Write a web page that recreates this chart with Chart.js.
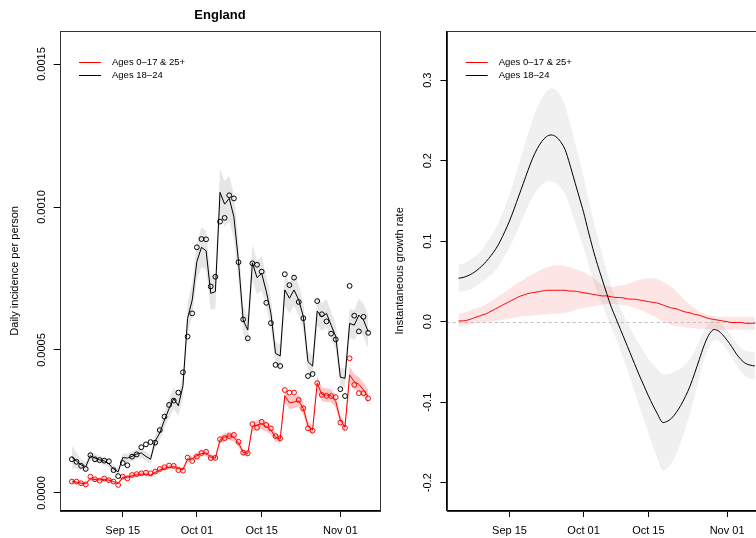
<!DOCTYPE html>
<html>
<head>
<meta charset="utf-8">
<script src="https://cdn.jsdelivr.net/npm/chart.js@4.4.1/dist/chart.umd.min.js"></script>
<style>
  html, body { margin: 0; padding: 0; background: #fff; overflow: hidden; width: 756px; height: 538px; }
  canvas { position: absolute; top: 0; }
  #incidence { left: 0; }
  #growth { left: 380px; }
</style>
</head>
<body>
<canvas id="incidence" width="400" height="538"></canvas>
<canvas id="growth" width="400" height="538"></canvas>
<script>
// ================= DATA =================
// x = days since 4 Sep 2020 (0..64)
const SERIES_NAMES = ['Ages 0\u201317 & 25+', 'Ages 18\u201324'];
const X_TICKS = [11, 27, 41, 58];
const X_TICK_LABELS = ['Sep 15', 'Oct 01', 'Oct 15', 'Nov 01'];
const INC_TICKS = [0, 0.0005, 0.0010, 0.0015];
const INC_TICK_LABELS = ['0.0000', '0.0005', '0.0010', '0.0015'];
const GROWTH_TICKS = [-0.2, -0.1, 0, 0.1, 0.2, 0.3];
const GROWTH_TICK_LABELS = ['-0.2', '-0.1', '0.0', '0.1', '0.2', '0.3'];

// daily incidence, per 10,000 people
const obsYoung = [1.18,1.09,0.95,0.84,1.32,1.18,1.15,1.13,1.11,0.80,0.59,1.05,0.97,1.27,1.35,1.60,1.70,1.78,1.76,2.20,2.67,3.08,3.23,3.51,4.22,5.47,6.28,8.59,8.88,8.87,7.22,7.56,9.49,9.62,10.41,10.30,8.07,6.07,5.41,8.03,7.98,7.74,6.65,5.94,4.48,4.44,7.65,7.27,7.53,6.68,6.11,4.09,4.16,6.71,6.25,6.00,5.57,5.37,3.63,3.39,7.24,6.20,5.65,6.16,5.60];
const fitYoung = [1.25,1.12,0.98,0.92,1.30,1.22,1.16,1.12,1.02,0.84,0.74,1.24,1.22,1.28,1.36,1.40,1.28,1.18,1.82,2.10,2.55,2.95,3.30,3.05,3.75,6.10,6.75,8.09,8.59,8.47,6.98,7.04,10.51,10.10,10.30,9.66,8.09,6.05,5.70,8.05,7.53,7.68,7.05,6.28,4.88,4.79,7.10,6.81,7.10,6.75,6.17,4.59,4.44,6.36,6.16,6.28,5.87,5.47,4.05,4.01,5.93,5.87,6.22,6.05,5.64];
const fitYoungLo = [0.85,0.85,0.78,0.76,1.13,1.07,1.02,0.98,0.89,0.72,0.63,1.09,1.07,1.12,1.19,1.22,1.11,1.02,1.60,1.85,2.25,2.62,2.93,2.70,3.35,5.55,6.18,7.45,7.90,7.80,6.40,6.45,9.70,9.30,9.50,8.90,7.45,5.55,5.22,7.42,6.95,7.08,6.50,5.78,4.48,4.40,6.55,6.28,6.55,6.22,5.68,4.22,4.08,5.85,5.67,5.78,5.40,5.03,3.72,3.68,5.42,5.35,5.65,5.48,5.05];
const fitYoungHi = [1.65,1.40,1.18,1.08,1.47,1.37,1.30,1.26,1.15,0.96,0.85,1.39,1.37,1.44,1.53,1.58,1.45,1.34,2.04,2.35,2.85,3.30,3.70,3.42,4.15,6.65,7.35,8.75,9.30,9.15,7.58,7.65,11.35,10.90,11.10,10.42,8.75,6.55,6.18,8.70,8.12,8.28,7.60,6.78,5.28,5.18,7.65,7.34,7.65,7.28,6.66,4.96,4.80,6.87,6.65,6.78,6.34,5.91,4.38,4.34,6.44,6.39,6.79,6.62,6.23];

const obsOther = [0.40,0.40,0.34,0.30,0.57,0.48,0.43,0.51,0.45,0.40,0.28,0.57,0.51,0.63,0.66,0.69,0.71,0.69,0.75,0.84,0.90,0.96,0.95,0.80,0.78,1.24,1.12,1.27,1.40,1.44,1.22,1.23,1.88,1.92,1.99,2.03,1.79,1.41,1.39,2.41,2.28,2.49,2.38,2.26,1.99,1.91,3.60,3.51,3.51,3.25,2.96,2.26,2.18,3.84,3.43,3.40,3.39,3.35,2.46,2.28,4.71,3.78,3.49,3.49,3.31];
const fitOther = [0.40,0.38,0.34,0.32,0.50,0.47,0.46,0.47,0.45,0.40,0.33,0.55,0.55,0.60,0.63,0.66,0.66,0.62,0.72,0.80,0.86,0.90,0.92,0.86,0.82,1.18,1.20,1.30,1.38,1.40,1.25,1.22,1.85,1.95,2.00,1.95,1.75,1.42,1.38,2.32,2.38,2.42,2.32,2.20,1.95,1.88,3.40,3.15,3.18,3.22,2.95,2.35,2.20,3.84,3.45,3.42,3.40,3.20,2.55,2.30,4.13,3.89,3.80,3.60,3.37];
const fitOtherLo = [0.35,0.33,0.29,0.27,0.44,0.41,0.40,0.41,0.39,0.35,0.28,0.49,0.49,0.53,0.56,0.59,0.59,0.55,0.65,0.72,0.78,0.82,0.84,0.78,0.74,1.08,1.10,1.19,1.27,1.29,1.15,1.12,1.71,1.80,1.85,1.80,1.61,1.31,1.27,2.15,2.21,2.24,2.15,2.04,1.80,1.74,3.17,2.93,2.96,3.00,2.74,2.18,2.04,3.58,3.21,3.18,3.17,2.98,2.37,2.13,3.85,3.62,3.54,3.35,3.12];
const fitOtherHi = [0.45,0.43,0.39,0.37,0.56,0.53,0.52,0.53,0.51,0.45,0.38,0.61,0.61,0.67,0.70,0.73,0.73,0.69,0.79,0.88,0.94,0.98,1.00,0.94,0.90,1.28,1.30,1.41,1.49,1.51,1.35,1.32,1.99,2.10,2.15,2.10,1.89,1.53,1.49,2.49,2.55,2.60,2.49,2.36,2.10,2.02,3.63,3.37,3.40,3.44,3.16,2.52,2.36,4.10,3.69,3.66,3.63,3.42,2.73,2.47,4.41,4.16,4.06,3.85,3.62];

// instantaneous growth rate
const growthYoung = [0.054,0.055,0.057,0.060,0.064,0.069,0.075,0.082,0.090,0.100,0.112,0.125,0.140,0.156,0.172,0.188,0.203,0.215,0.224,0.230,0.232,0.230,0.224,0.214,0.196,0.176,0.156,0.136,0.113,0.091,0.071,0.053,0.035,0.018,0.004,-0.010,-0.024,-0.038,-0.052,-0.066,-0.079,-0.092,-0.104,-0.115,-0.125,-0.124,-0.120,-0.113,-0.104,-0.093,-0.080,-0.064,-0.047,-0.030,-0.017,-0.010,-0.011,-0.016,-0.023,-0.031,-0.040,-0.047,-0.052,-0.054,-0.055];
const growthYoungLo = [0.037,0.038,0.039,0.041,0.045,0.049,0.053,0.058,0.064,0.072,0.082,0.092,0.104,0.117,0.130,0.143,0.155,0.164,0.170,0.174,0.174,0.172,0.167,0.159,0.144,0.126,0.109,0.092,0.072,0.053,0.036,0.022,0.007,-0.007,-0.021,-0.036,-0.052,-0.069,-0.086,-0.104,-0.121,-0.138,-0.155,-0.171,-0.185,-0.183,-0.176,-0.165,-0.150,-0.133,-0.114,-0.092,-0.070,-0.048,-0.032,-0.023,-0.023,-0.028,-0.035,-0.044,-0.054,-0.062,-0.068,-0.071,-0.072];
const growthYoungHi = [0.071,0.072,0.075,0.079,0.083,0.089,0.097,0.106,0.116,0.128,0.142,0.158,0.176,0.195,0.214,0.233,0.251,0.266,0.278,0.286,0.290,0.288,0.281,0.269,0.248,0.226,0.203,0.180,0.154,0.129,0.106,0.084,0.063,0.043,0.029,0.016,0.004,-0.007,-0.018,-0.028,-0.037,-0.046,-0.053,-0.059,-0.065,-0.065,-0.064,-0.061,-0.058,-0.053,-0.046,-0.036,-0.024,-0.012,-0.002,0.003,0.001,-0.004,-0.011,-0.018,-0.026,-0.032,-0.036,-0.037,-0.038];
const growthOther = [0.001,0.001,0.002,0.004,0.006,0.008,0.010,0.013,0.016,0.019,0.022,0.025,0.028,0.031,0.033,0.035,0.036,0.037,0.038,0.039,0.039,0.039,0.039,0.039,0.038,0.038,0.037,0.036,0.035,0.034,0.033,0.032,0.032,0.031,0.030,0.030,0.029,0.028,0.028,0.027,0.026,0.025,0.024,0.023,0.021,0.019,0.017,0.016,0.014,0.012,0.011,0.009,0.008,0.006,0.004,0.003,0.002,0.001,0.000,-0.001,-0.001,-0.001,-0.002,-0.002,-0.002];
const growthOtherLo = [-0.006,-0.005,-0.004,-0.003,-0.002,-0.001,0.000,0.000,0.001,0.002,0.003,0.004,0.005,0.006,0.007,0.007,0.008,0.008,0.009,0.009,0.010,0.010,0.010,0.011,0.012,0.014,0.016,0.017,0.018,0.019,0.020,0.021,0.022,0.022,0.022,0.021,0.020,0.019,0.017,0.015,0.013,0.010,0.007,0.004,0.001,-0.002,-0.004,-0.005,-0.006,-0.007,-0.008,-0.008,-0.009,-0.009,-0.009,-0.010,-0.010,-0.010,-0.010,-0.010,-0.010,-0.010,-0.010,-0.010,-0.010];
const growthOtherHi = [0.010,0.011,0.013,0.015,0.017,0.019,0.022,0.025,0.029,0.033,0.037,0.041,0.045,0.049,0.052,0.056,0.059,0.062,0.065,0.067,0.069,0.070,0.070,0.069,0.068,0.066,0.064,0.062,0.059,0.055,0.050,0.046,0.044,0.043,0.044,0.045,0.046,0.048,0.050,0.052,0.053,0.054,0.054,0.053,0.050,0.047,0.043,0.038,0.032,0.026,0.021,0.017,0.013,0.010,0.008,0.007,0.006,0.006,0.006,0.006,0.006,0.006,0.006,0.006,0.006];

// ================= STYLE =================
const FONT = "'Liberation Sans', Arial, Helvetica, sans-serif";
const RED = '#ff0000';
const BLACK = '#000000';
const GREY_BAND = '#e6e6e6';
const PINK_BAND = '#fbc8c8';
const GREY_BAND_GR = '#f0f0f0';
const PINK_BAND_GR = 'rgba(250, 40, 40, 0.12)';

Chart.defaults.font.family = FONT;
Chart.defaults.color = '#000';
Chart.defaults.animation = false;

const PER_10K = 1e-4;
function toPoints(values, factor = 1) {
  return values.map((v, i) => ({ x: i, y: v * factor }));
}

// ================= PLUGINS =================
// frame round the plot region
const boxPlugin = {
  id: 'box',
  afterDatasetsDraw(chart) {
    const { ctx, chartArea: a } = chart;
    ctx.save();
    ctx.strokeStyle = '#333';
    ctx.lineWidth = 1;
    ctx.strokeRect(Math.round(a.left) + 0.5, Math.round(a.top) + 0.5,
      Math.round(a.right - a.left), Math.round(a.bottom - a.top));
    ctx.restore();
  }
};

// legend with line samples, top left inside the plot
const lineLegend = {
  id: 'lineLegend',
  afterDatasetsDraw(chart, args, opts) {
    const { ctx, chartArea: a } = chart;
    ctx.save();
    ctx.font = '9.5px ' + FONT;
    ctx.textBaseline = 'middle';
    opts.items.forEach((it, i) => {
      const y = Math.round(a.top + 30.5 + i * 13.5) + 0.5;
      ctx.strokeStyle = it.color;
      ctx.lineWidth = 1;
      ctx.beginPath();
      ctx.moveTo(a.left + 19, y);
      ctx.lineTo(a.left + 41, y);
      ctx.stroke();
      ctx.fillStyle = '#000';
      ctx.fillText(it.text, a.left + 52, y);
    });
    ctx.restore();
  }
};

// dotted reference line at zero growth
const zeroLine = {
  id: 'zeroLine',
  beforeDatasetDraw(chart, args) {
    if (args.index !== 1) return;
    const { ctx, chartArea: a, scales } = chart;
    const y = Math.round(scales.y.getPixelForValue(0)) + 0.5;
    ctx.save();
    ctx.strokeStyle = '#bdbdbd';
    ctx.lineWidth = 1;
    ctx.setLineDash([3, 3]);
    ctx.beginPath();
    ctx.moveTo(a.left, y);
    ctx.lineTo(a.right, y);
    ctx.stroke();
    ctx.restore();
  }
};

// ================= AXES =================
function dayAxis() {
  return {
    type: 'linear',
    min: -2.56,
    max: 66.56,
    afterBuildTicks: s => { s.ticks = X_TICKS.map(v => ({ value: v })); },
    afterFit: s => { s.height = 27.3; },
    grid: { drawOnChartArea: false, drawTicks: true, tickLength: 6.3, color: BLACK },
    border: { display: true, color: BLACK },
    ticks: { callback: (v, i) => X_TICK_LABELS[i], font: { size: 11 }, padding: 7.4, maxRotation: 0, autoSkip: false }
  };
}

function valueAxis(min, max, ticks, labels, title, titlePad, labelPad, width) {
  return {
    type: 'linear',
    min: min,
    max: max,
    afterBuildTicks: s => { s.ticks = ticks.map(v => ({ value: v })); },
    afterFit: s => { s.width = width; },
    grid: { drawOnChartArea: false, drawTicks: true, tickLength: 6.3, color: BLACK },
    border: { display: true, color: BLACK },
    ticks: {
      callback: (v, i) => labels[i],
      font: { size: 11 },
      minRotation: 90,
      maxRotation: 90,
      crossAlign: 'center',
      padding: labelPad,
      autoSkip: false
    },
    title: { display: true, text: title, font: { size: 11 }, padding: { top: titlePad, bottom: 0 } }
  };
}

function band(values, color, order, factor, fill) {
  return {
    data: toPoints(values, factor),
    borderColor: 'rgba(0,0,0,0)',
    borderWidth: 0,
    pointRadius: 0,
    backgroundColor: color,
    fill: fill,
    order: order
  };
}

// ================= GRÁFICO 1: INCIDÊNCIA =================
new Chart(document.getElementById('incidence'), {
  type: 'line',
  data: {
    datasets: [
      { data: toPoints(obsYoung, PER_10K), showLine: false, pointRadius: 2.4, pointBorderWidth: 1,
        pointBorderColor: BLACK, pointBackgroundColor: 'rgba(0,0,0,0)', order: 0 },
      { data: toPoints(obsOther, PER_10K), showLine: false, pointRadius: 2.4, pointBorderWidth: 1,
        pointBorderColor: RED, pointBackgroundColor: 'rgba(0,0,0,0)', order: 0 },
      { data: toPoints(fitYoung, PER_10K), borderColor: BLACK, borderWidth: 1, pointRadius: 0, order: 1 },
      { data: toPoints(fitOther, PER_10K), borderColor: RED, borderWidth: 1, pointRadius: 0, order: 1 },
      band(fitYoungLo, GREY_BAND, 3, PER_10K, false),
      band(fitYoungHi, GREY_BAND, 3, PER_10K, '-1'),
      band(fitOtherLo, PINK_BAND, 2, PER_10K, false),
      band(fitOtherHi, PINK_BAND, 2, PER_10K, '-1')
    ]
  },
  options: {
    responsive: false,
    devicePixelRatio: 1,
    layout: { padding: { top: 1.4, right: 20, left: 0, bottom: 0 } },
    scales: {
      x: dayAxis(),
      y: valueAxis(-0.0000619, 0.0016154, INC_TICKS, INC_TICK_LABELS,
        'Daily incidence per person', 8.4, -4.6, 60)
    },
    plugins: {
      legend: { display: false },
      tooltip: { enabled: false },
      title: { display: true, text: 'England', fullSize: false, font: { size: 13, weight: 'bold' },
        padding: { top: 6, bottom: 8 }, color: '#000' },
      lineLegend: { items: [{ text: SERIES_NAMES[0], color: RED }, { text: SERIES_NAMES[1], color: BLACK }] }
    }
  },
  plugins: [boxPlugin, lineLegend]
});

// ================= GRÁFICO 2: TAXA DE CRESCIMENTO =================
new Chart(document.getElementById('growth'), {
  type: 'line',
  data: {
    datasets: [
      { data: toPoints(growthYoung), borderColor: BLACK, borderWidth: 1, pointRadius: 0, tension: 0.3, order: 0 },
      { data: toPoints(growthOther), borderColor: RED, borderWidth: 1, pointRadius: 0, tension: 0.3, order: 1 },
      Object.assign(band(growthYoungLo, GREY_BAND_GR, 3, 1, false), { tension: 0.3 }),
      Object.assign(band(growthYoungHi, GREY_BAND_GR, 3, 1, '-1'), { tension: 0.3 }),
      Object.assign(band(growthOtherLo, PINK_BAND_GR, 2, 1, false), { tension: 0.3 }),
      Object.assign(band(growthOtherHi, PINK_BAND_GR, 2, 1, '-1'), { tension: 0.3 })
    ]
  },
  options: {
    responsive: false,
    devicePixelRatio: 1,
    layout: { padding: { top: 31, right: 13.3, left: 0, bottom: 0 } },
    scales: {
      x: dayAxis(),
      y: valueAxis(-0.2348, 0.3611, GROWTH_TICKS, GROWTH_TICK_LABELS,
        'Instantaneous growth rate', 13.4, 2.9, 66.7)
    },
    plugins: {
      legend: { display: false },
      tooltip: { enabled: false },
      lineLegend: { items: [{ text: SERIES_NAMES[0], color: RED }, { text: SERIES_NAMES[1], color: BLACK }] }
    }
  },
  plugins: [boxPlugin, lineLegend, zeroLine]
});
</script>
</body>
</html>
